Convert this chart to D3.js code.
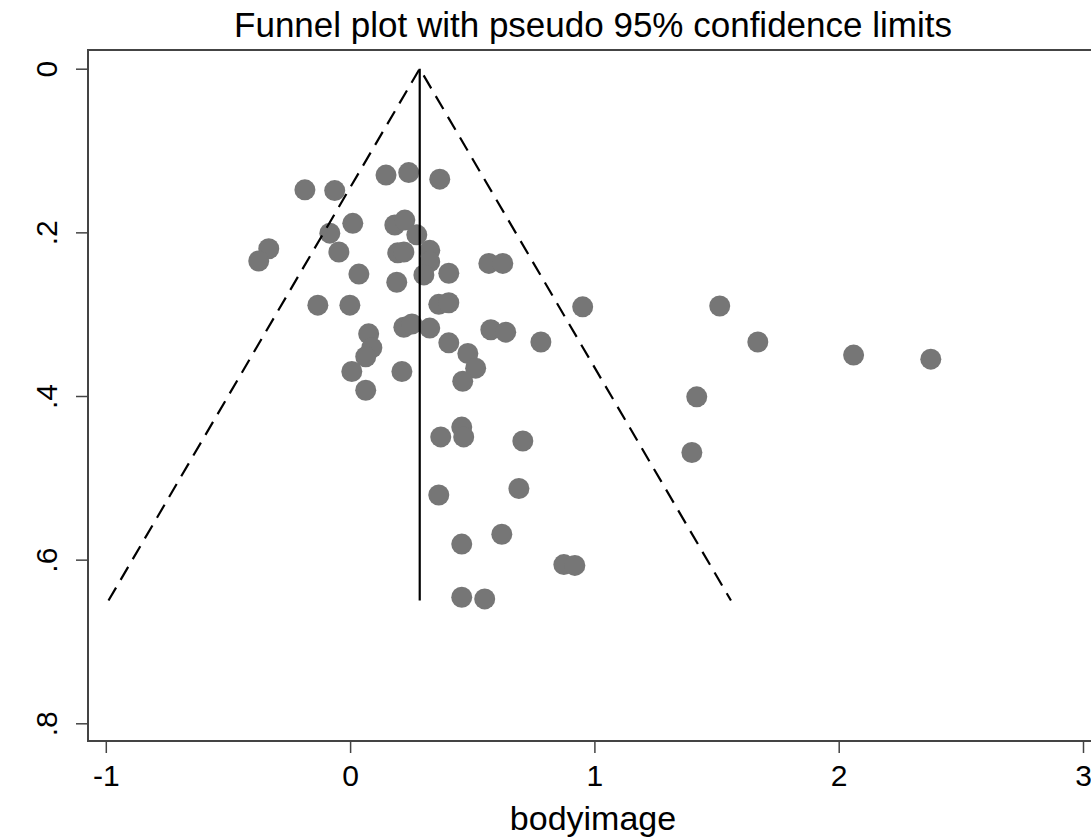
<!DOCTYPE html>
<html>
<head>
<meta charset="utf-8">
<script src="https://cdn.jsdelivr.net/npm/d3@7"></script>
<style>
  body { margin: 0; background: #fff; }
  text { font-family: "Liberation Sans", Arial, sans-serif; fill: #000; }
</style>
</head>
<body>
<div id="chart"></div>
<script>
// effect sizes (bodyimage) and their standard errors
var effect = [-0.185, -0.063, 0.147, 0.240, 0.367, 0.011, -0.083, -0.333, -0.374, -0.046,
              0.183, 0.224, 0.273, 0.195, 0.220, 0.326, 0.326, 0.302, 0.404, 0.036,
              0.191, -0.132, -0.001, 0.363, 0.404, 0.568, 0.625, 0.076, 0.089, 0.064,
              0.007, 0.212, 0.064, 0.220, 0.253, 0.326, 0.404, 0.482, 0.514, 0.461,
              0.576, 0.637, 0.952, 1.513, 1.669, 2.061, 2.377, 1.419, 1.399, 0.781,
              0.457, 0.371, 0.465, 0.707, 0.363, 0.691, 0.457, 0.621, 0.875, 0.920,
              0.457, 0.551];
var stderr = [0.148, 0.149, 0.130, 0.127, 0.135, 0.189, 0.201, 0.220, 0.235, 0.224,
              0.191, 0.185, 0.203, 0.225, 0.224, 0.222, 0.236, 0.252, 0.250, 0.251,
              0.261, 0.289, 0.289, 0.288, 0.286, 0.238, 0.238, 0.324, 0.341, 0.352,
              0.370, 0.370, 0.393, 0.316, 0.312, 0.317, 0.335, 0.348, 0.366, 0.382,
              0.319, 0.322, 0.291, 0.290, 0.334, 0.350, 0.355, 0.401, 0.469, 0.334,
              0.438, 0.450, 0.450, 0.455, 0.521, 0.513, 0.581, 0.569, 0.606, 0.607,
              0.646, 0.648];

// pooled estimate and pseudo 95% limits
var pooled = 0.285;
var seMax = 0.65;
var zCrit = 1.96;

var xTicks = [-1, 0, 1, 2, 3];
var yTicks = [0, 0.2, 0.4, 0.6, 0.8];

var svgWidth = 1091, svgHeight = 840;

var svg = d3.select("#chart").append("svg")
  .attr("width", svgWidth)
  .attr("height", svgHeight);

var x = d3.scaleLinear().domain([-1, 3]).range([105.8, 1083]);
var y = d3.scaleLinear().domain([0, 0.8]).range([68.7, 723.3]);

var frame = {left: 88, top: 50, bottom: 741};

// plot frame
svg.append("path")
  .attr("d", `M${svgWidth + 5},${frame.top} H${frame.left} V${frame.bottom} H${svgWidth + 5}`)
  .attr("fill", "none")
  .attr("stroke", "#444")
  .attr("stroke-width", 2);

// title
svg.append("text")
  .attr("x", 593)
  .attr("y", 37)
  .attr("text-anchor", "middle")
  .style("font-size", "35px")
  .text("Funnel plot with pseudo 95% confidence limits");

// x axis
var xAxis = svg.append("g")
  .attr("transform", `translate(0, ${frame.bottom})`)
  .call(d3.axisBottom(x).tickValues(xTicks).tickSize(12).tickPadding(12).tickFormat(d => String(d)));
xAxis.select(".domain").remove();
xAxis.selectAll("line").attr("stroke", "#444").attr("stroke-width", 1.5);
xAxis.selectAll("text").style("font-size", "30px").attr("fill", "#000");

svg.append("text")
  .attr("x", 593)
  .attr("y", 830)
  .attr("text-anchor", "middle")
  .style("font-size", "34px")
  .text("bodyimage");

// y axis
var yAxis = svg.append("g")
  .attr("transform", `translate(${frame.left}, 0)`)
  .call(d3.axisLeft(y).tickValues(yTicks).tickSize(12)
    .tickFormat(d => d === 0 ? "0" : d3.format(".1f")(d).replace(/^0/, "")));
yAxis.select(".domain").remove();
yAxis.selectAll("line").attr("stroke", "#444").attr("stroke-width", 1.5);
yAxis.selectAll("text")
  .style("font-size", "30px")
  .attr("fill", "#000")
  .attr("text-anchor", "middle")
  .attr("x", null).attr("dy", null)
  .attr("transform", "translate(-31, 0) rotate(-90)");

// study points
svg.append("g").selectAll("circle")
  .data(effect.map((e, i) => ({e: e, se: stderr[i]})))
  .enter()
  .append("circle")
  .attr("cx", d => x(d.e))
  .attr("cy", d => y(d.se))
  .attr("r", 10.5)
  .attr("fill", "#767676");

// pooled line
svg.append("line")
  .attr("x1", x(pooled)).attr("x2", x(pooled))
  .attr("y1", y(0)).attr("y2", y(seMax))
  .attr("stroke", "#000")
  .attr("stroke-width", 2.2);

// confidence limits
var funnel = [
  [pooled - zCrit * seMax, seMax],
  [pooled, 0],
  [pooled + zCrit * seMax, seMax]
];
svg.append("path")
  .attr("d", d3.line().x(d => x(d[0])).y(d => y(d[1]))(funnel))
  .attr("fill", "none")
  .attr("stroke", "#000")
  .attr("stroke-width", 2.2)
  .attr("stroke-dasharray", "15,9");
</script>
</body>
</html>
